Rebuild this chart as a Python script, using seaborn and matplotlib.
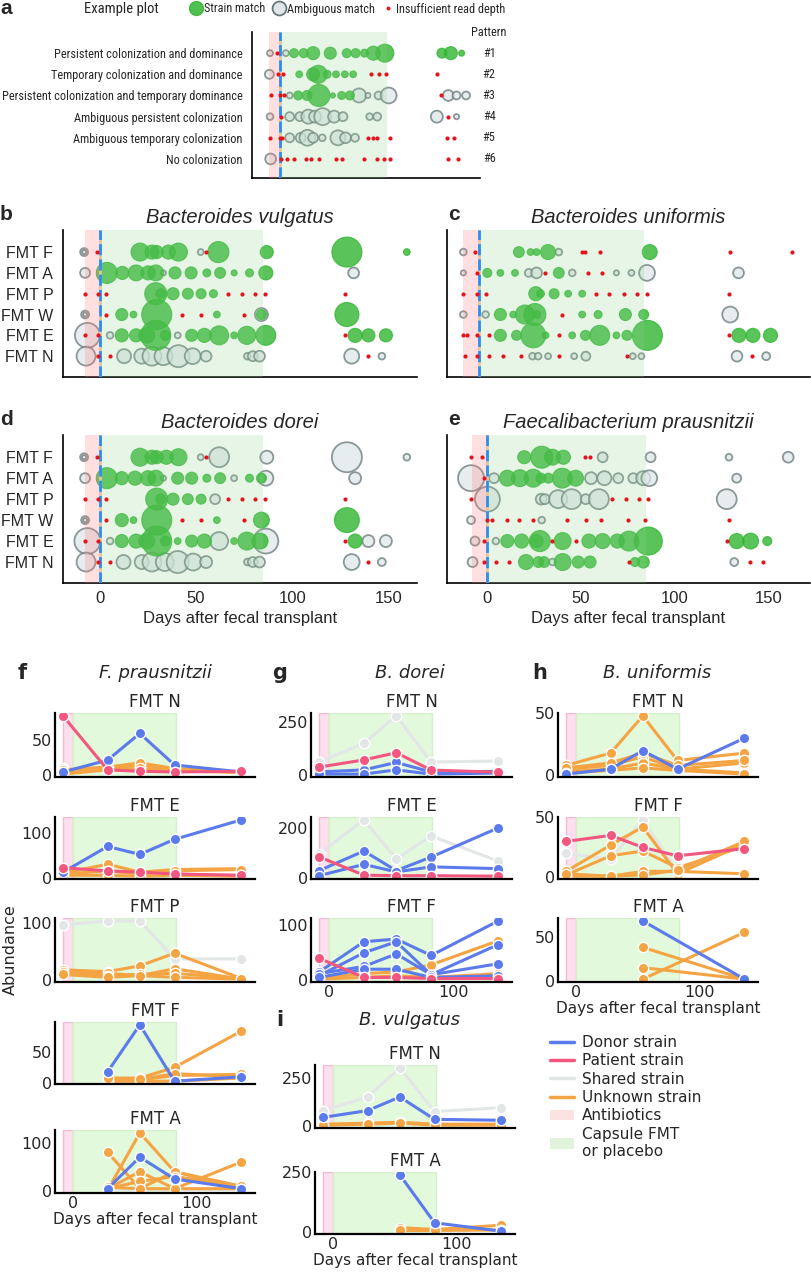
import numpy as np
import pandas as pd
import matplotlib.pyplot as plt
import seaborn as sns
from matplotlib import font_manager
from matplotlib.lines import Line2D
from matplotlib.patches import Patch

################################
# data: top panels, (day, abundance, kind)
# kind: S = strain match, A = ambiguous match, R = insufficient read depth
################################

pattern_names = ["Persistent colonization and dominance", "Temporary colonization and dominance",
                 "Persistent colonization and temporary dominance", "Ambiguous persistent colonization",
                 "Ambiguous temporary colonization", "No colonization"]
example_rows = [
    [(-7.5, 4, 'A'), (-2, 0, 'R'), (5, 4, 'A'), (11.4, 9, 'S'), (19, 9, 'S'), (26.5, 19, 'S'), (40, 16, 'S'),
     (53, 9, 'S'), (60, 9, 'S'), (67, 7, 'S'), (74, 22, 'S'), (83, 36, 'S'), (128, 11, 'S'), (135, 19, 'S'),
     (143.5, 4, 'S')],
    [(-8, 9, 'A'), (-1, 0, 'R'), (3, 0, 'R'), (15.5, 5, 'S'), (26.5, 19, 'S'), (30.5, 36, 'S'), (37.5, 7, 'S'),
     (44.5, 5, 'S'), (51.5, 5, 'S'), (58, 5, 'S'), (72, 0, 'R'), (78.5, 0, 'R'), (84, 0, 'R'), (124, 0, 'R')],
    [(-7, 0, 'R'), (0, 0, 'R'), (3.5, 0, 'R'), (8, 4, 'A'), (14.7, 9, 'S'), (21.7, 11, 'S'), (31, 54, 'S'),
     (42, 3, 'S'), (49, 7, 'S'), (55.5, 9, 'S'), (62.7, 22, 'A'), (69.7, 3, 'A'), (78, 7, 'A'), (86, 28, 'A'),
     (127, 0, 'R'), (133, 13, 'A'), (139.5, 7, 'A'), (147, 7, 'A')],
    [(-7.5, 5, 'A'), (1, 0, 'R'), (8, 9, 'A'), (16, 9, 'A'), (22.7, 22, 'A'), (28, 16, 'A'), (34, 32, 'A'),
     (43, 16, 'A'), (50, 9, 'A'), (71, 5, 'A'), (77, 7, 'A'), (124, 16, 'A'), (132.5, 0, 'R'), (139.5, 3, 'A')],
    [(-7.5, 0, 'R'), (0, 0, 'R'), (2, 0, 'R'), (8, 9, 'A'), (16.7, 11, 'A'), (22, 28, 'A'), (26.5, 11, 'A'),
     (33.7, 5, 'A'), (46, 25, 'A'), (52, 13, 'A'), (59.5, 7, 'A'), (69.4, 0, 'R'), (73.4, 0, 'R'), (77, 0, 'R'),
     (87, 0, 'R'), (132, 0, 'R'), (137.4, 0, 'R')],
    [(-7, 13, 'A'), (1, 0, 'R'), (6, 0, 'R'), (11.5, 0, 'R'), (21, 0, 'R'), (25, 0, 'R'), (31, 0, 'R'),
     (44.5, 0, 'R'), (49, 0, 'R'), (66.5, 0, 'R'), (76.5, 0, 'R'), (82, 0, 'R'), (87, 0, 'R'), (133, 0, 'R'),
     (141, 0, 'R')],
]

fmt_rows = ["FMT F", "FMT A", "FMT P", "FMT W", "FMT E", "FMT N"]

vulgatus_rows = [
    [(-8.3, 7, 'A'), (-8.3, 2, 'A'), (-1.7, 0, 'R'), (20.8, 36, 'S'), (27, 22, 'S'), (29.5, 19, 'S'),
     (35.6, 22, 'S'), (40.8, 36, 'S'), (52.4, 4, 'A'), (55, 0, 'R'), (61.6, 49, 'S'), (86.8, 19, 'S'),
     (128.5, 100, 'S'), (159.7, 5, 'S')],
    [(-7.8, 11, 'A'), (3.5, 49, 'S'), (11.6, 19, 'S'), (18.75, 28, 'S'), (25, 22, 'S'), (29, 28, 'S'),
     (33, 3, 'A'), (39, 16, 'S'), (47.4, 16, 'S'), (55.6, 7, 'S'), (62.5, 13, 'S'), (69.8, 4, 'S'),
     (77.8, 7, 'S'), (86.3, 22, 'S'), (132, 13, 'A')],
    [(-7.8, 0, 'R'), (-1.3, 0, 'R'), (3.1, 0, 'R'), (29, 54, 'S'), (31.6, 11, 'S'), (38, 16, 'S'),
     (45.7, 13, 'S'), (52.6, 11, 'S'), (59, 7, 'S'), (66.8, 0, 'R'), (73.8, 0, 'R'), (80.7, 0, 'R'),
     (86, 0, 'R'), (127.6, 0, 'R')],
    [(-7.8, 7, 'A'), (-7.8, 2, 'A'), (3.1, 0, 'R'), (11.3, 16, 'S'), (17.4, 5, 'S'), (29.5, 100, 'S'),
     (42.5, 0, 'R'), (52.6, 0, 'R'), (60.8, 5, 'S'), (75, 0, 'R'), (84, 19, 'A'), (84, 11, 'S'),
     (128.5, 64, 'S')],
    [(-6.6, 69, 'A'), (-8, 0, 'R'), (-1.3, 0, 'R'), (5.2, 5, 'A'), (11.3, 19, 'S'), (18.75, 19, 'S'),
     (24.3, 28, 'S'), (29, 100, 'S'), (34, 11, 'S'), (40.4, 4, 'A'), (47.7, 16, 'S'), (54.3, 22, 'S'),
     (62, 40, 'S'), (69.8, 5, 'S'), (76.4, 36, 'S'), (86.3, 44, 'S'), (127.4, 0, 'R'), (132.8, 22, 'S'),
     (139.7, 19, 'S'), (148.8, 19, 'S')],
    [(-7.3, 40, 'A'), (-1.3, 0, 'R'), (5.2, 0, 'R'), (12.5, 22, 'A'), (21.7, 25, 'A'), (27, 40, 'A'),
     (33, 36, 'A'), (40.8, 54, 'A'), (48.2, 28, 'A'), (55.2, 13, 'A'), (76.7, 5, 'A'), (79.5, 11, 'A'),
     (83, 13, 'A'), (131, 25, 'A'), (139.4, 0, 'R'), (146.7, 5, 'A')],
]

uniformis_rows = [
    [(-8, 5, 'A'), (-2, 0, 'R'), (20.5, 13, 'S'), (26.5, 5, 'S'), (29.6, 5, 'S'), (35.5, 25, 'S'),
     (41, 5, 'A'), (53, 0, 'R'), (54.7, 0, 'R'), (62, 0, 'R'), (87.7, 25, 'S'), (129, 0, 'R'), (160.7, 0, 'R')],
    [(-8, 3, 'A'), (-1.2, 0, 'R'), (4.3, 9, 'S'), (11, 5, 'S'), (18.5, 5, 'S'), (25.6, 7, 'A'), (29.6, 13, 'A'),
     (33.8, 0, 'R'), (41, 13, 'S'), (47.9, 5, 'A'), (56, 0, 'R'), (63, 0, 'R'), (70.6, 3, 'A'), (78.3, 4, 'A'),
     (86.3, 28, 'A'), (133.3, 13, 'A')],
    [(-8, 0, 'R'), (-1.2, 0, 'R'), (3.4, 0, 'R'), (29.2, 22, 'S'), (31.6, 7, 'S'), (38.6, 11, 'S'),
     (45.8, 5, 'S'), (53, 5, 'S'), (60, 0, 'R'), (67, 0, 'R'), (74.4, 0, 'R'), (81.4, 0, 'R'), (86.5, 0, 'R'),
     (128.2, 0, 'R')],
    [(-8, 5, 'A'), (3.4, 5, 'A'), (11, 16, 'S'), (17.6, 5, 'S'), (23.6, 40, 'S'), (28.7, 54, 'S'),
     (29.6, 7, 'S'), (42.7, 0, 'R'), (53, 5, 'S'), (61.2, 7, 'S'), (75.2, 16, 'S'), (84.6, 11, 'S'),
     (129, 28, 'A')],
    [(-8, 0, 'R'), (-6, 0, 'R'), (-1, 0, 'R'), (5.3, 0, 'R'), (11, 16, 'S'), (19.3, 11, 'S'), (27.9, 69, 'S'),
     (34.2, 5, 'S'), (41, 0, 'R'), (47.9, 5, 'S'), (54.7, 11, 'S'), (62, 44, 'S'), (70.6, 5, 'S'), (76, 11, 'S'),
     (86.5, 107, 'S'), (128.2, 0, 'R'), (133.5, 22, 'S'), (140.7, 22, 'S'), (149.7, 22, 'S')],
    [(-7.2, 0, 'R'), (-1, 0, 'R'), (5.3, 0, 'R'), (12.5, 0, 'R'), (21.5, 0, 'R'), (27.5, 5, 'A'),
     (30.4, 5, 'A'), (35.5, 4, 'A'), (41, 0, 'R'), (48.9, 4, 'A'), (54.9, 9, 'A'), (76, 0, 'R'), (79, 4, 'A'),
     (83.4, 4, 'A'), (132.5, 13, 'A'), (140.3, 0, 'R'), (147.5, 7, 'A')],
]

dorei_rows = [
    [(-8.3, 7, 'A'), (-8.3, 2, 'A'), (-1.7, 0, 'R'), (20.8, 36, 'S'), (27, 22, 'S'), (29.5, 19, 'S'),
     (34.5, 22, 'S'), (40.8, 32, 'S'), (52.4, 4, 'A'), (55, 0, 'R'), (62, 44, 'A'), (86.8, 19, 'A'),
     (128.5, 100, 'A'), (159.7, 5, 'A')],
    [(-7.8, 11, 'A'), (3.5, 49, 'S'), (11.3, 19, 'S'), (18.2, 22, 'S'), (25, 25, 'S'), (29, 28, 'S'),
     (33, 3, 'A'), (40.4, 16, 'S'), (47.7, 16, 'S'), (55.6, 7, 'S'), (62.5, 13, 'S'), (69.8, 4, 'A'),
     (77.8, 7, 'S'), (84, 11, 'S'), (86.3, 25, 'A'), (132.8, 16, 'A')],
    [(-7.8, 0, 'R'), (-1.3, 0, 'R'), (3.1, 0, 'R'), (29.5, 54, 'S'), (31.6, 11, 'S'), (38, 16, 'S'),
     (45.7, 13, 'S'), (52.6, 11, 'S'), (59.9, 11, 'A'), (66.8, 0, 'R'), (73.8, 0, 'R'), (80.7, 0, 'R'),
     (86, 0, 'R'), (127.6, 0, 'R')],
    [(-7.8, 7, 'A'), (-7.8, 2, 'A'), (3.1, 0, 'R'), (11.3, 19, 'S'), (17.4, 5, 'S'), (29.5, 100, 'S'),
     (42.5, 0, 'R'), (52.6, 0, 'R'), (60.8, 5, 'S'), (75, 0, 'R'), (84, 28, 'S'), (128.5, 69, 'S')],
    [(-6.6, 75, 'A'), (-8, 0, 'R'), (-1.3, 0, 'R'), (5.2, 5, 'A'), (11.3, 19, 'S'), (18.75, 22, 'S'),
     (24.3, 28, 'S'), (29.5, 100, 'S'), (34, 11, 'S'), (40.4, 5, 'S'), (47.7, 16, 'S'), (54.3, 22, 'S'),
     (62, 36, 'A'), (69.8, 5, 'S'), (76.4, 36, 'S'), (83.3, 28, 'S'), (86.3, 69, 'A'), (127.4, 0, 'R'),
     (132.8, 22, 'S'), (139.7, 16, 'A'), (148.8, 16, 'A')],
    [(-7.3, 40, 'A'), (-1.3, 0, 'R'), (5.2, 0, 'R'), (12.2, 22, 'A'), (21.7, 22, 'A'), (27, 40, 'A'),
     (33.7, 36, 'A'), (40.4, 54, 'A'), (48.5, 32, 'A'), (55.2, 16, 'A'), (76.7, 5, 'A'), (79.5, 11, 'A'),
     (83, 13, 'A'), (131, 28, 'A'), (139.7, 0, 'R'), (146.7, 7, 'A')],
]

prausnitzii_rows = [
    [(-8.3, 0, 'R'), (-2.3, 0, 'R'), (20, 19, 'S'), (29.3, 54, 'S'), (35, 28, 'S'), (40.8, 22, 'S'),
     (52.3, 0, 'R'), (55, 0, 'R'), (61.7, 11, 'A'), (87.2, 11, 'A'), (128.9, 5, 'A'), (160.4, 13, 'A')],
    [(-8.3, 75, 'A'), (-1.4, 0, 'R'), (3.9, 11, 'A'), (11, 28, 'S'), (17.7, 32, 'S'), (24.8, 36, 'S'),
     (28.9, 11, 'S'), (32.8, 11, 'S'), (40.2, 44, 'S'), (47.3, 28, 'S'), (55.5, 16, 'A'), (62.6, 22, 'A'),
     (70, 11, 'A'), (78, 11, 'A'), (83.3, 22, 'A'), (86.5, 28, 'A'), (133, 9, 'A')],
    [(-8.3, 0, 'R'), (0.4, 69, 'A'), (29, 13, 'A'), (31, 11, 'A'), (38, 36, 'A'), (45.2, 44, 'A'),
     (52.7, 11, 'A'), (59.7, 44, 'A'), (66.8, 0, 'R'), (74, 0, 'R'), (81, 0, 'R'), (86, 0, 'R'),
     (127.7, 44, 'A')],
    [(-8.3, 7, 'A'), (0, 0, 'R'), (2.7, 0, 'R'), (11, 0, 'R'), (17.2, 0, 'R'), (24.5, 0, 'R'), (29.3, 5, 'A'),
     (42.6, 0, 'R'), (52.7, 0, 'R'), (60.8, 0, 'R'), (75, 0, 'R'), (84.2, 0, 'R'), (128.9, 0, 'R')],
    [(-6.2, 9, 'A'), (-1.2, 0, 'R'), (4.9, 5, 'A'), (11, 19, 'S'), (18.6, 22, 'S'), (26.6, 19, 'S'),
     (28.3, 49, 'S'), (35, 0, 'R'), (40.4, 32, 'S'), (47.5, 0, 'R'), (54.4, 22, 'S'), (61.7, 25, 'S'),
     (69.5, 22, 'S'), (75.7, 44, 'S'), (86, 87, 'S'), (128, 0, 'R'), (133, 25, 'S'), (140.4, 28, 'S'),
     (149.3, 9, 'S')],
    [(-7.5, 11, 'A'), (-1.4, 0, 'R'), (4.9, 0, 'R'), (12, 0, 'R'), (20.9, 25, 'S'), (27.5, 13, 'S'),
     (30.5, 13, 'S'), (35, 5, 'A'), (40.4, 32, 'S'), (48.7, 16, 'S'), (55, 16, 'S'), (75.9, 0, 'R'),
     (78.9, 9, 'S'), (83.3, 16, 'S'), (131.7, 7, 'A'), (140, 0, 'R'), (147, 0, 'R')],
]

################################
# data: bottom panels (abundance at each sampling day)
################################

days_small = [-8, 28, 54, 82, 136]
N = None

fp_N = [("Shared", [10, 12, 14, 10, 5]), ("Unknown", [3, 10, 15, 8, 5]), ("Unknown", [8, 12, 18, 10, 5]),
        ("Unknown", [2, 8, 10, 7, 4]), ("Donor", [5, 22, 60, 15, 5]), ("Patient", [85, 8, 6, 5, 6])]
fp_E = [("Shared", [8, 10, 5, 8, 4]), ("Unknown", [10, 30, 12, 18, 20]), ("Unknown", [8, 15, 8, 15, 18]),
        ("Unknown", [5, 5, 3, 5, 3]), ("Patient", [22, 15, 12, 8, 5]), ("Donor", [12, 70, 52, 86, 130])]
fp_P = [("Shared", [96, 103, 103, 37, 37]), ("Unknown", [18, 15, 25, 47, 3]), ("Unknown", [12, 12, 8, 20, 2]),
        ("Unknown", [15, 8, 10, 12, 3]), ("Unknown", [10, 5, 8, 5, 2])]
fp_F = [("Unknown", [N, 8, 8, 25, 83]), ("Unknown", [N, 5, 5, 12, 14]), ("Unknown", [N, 3, 3, 3, 8]),
        ("Unknown", [N, 8, 6, 15, 10]), ("Donor", [N, 18, 93, 3, 10])]
fp_A = [("Shared", [N, 5, 5, 5, 5]), ("Unknown", [N, 80, 5, 40, 10]), ("Unknown", [N, 2, 120, 40, 5]),
        ("Unknown", [N, 5, 40, 5, 60]), ("Unknown", [N, 5, 20, 30, 10]), ("Unknown", [N, 8, 5, 5, 5]),
        ("Donor", [N, 5, 70, 25, 5])]

bd_N = [("Shared", [62, 150, 280, 62, 67]), ("Donor", [15, 25, 60, 15, 18]), ("Donor", [5, 5, 25, 5, 10]),
        ("Patient", [38, 72, 106, 24, 14])]
bd_E = [("Shared", [96, 232, 76, 168, 68]), ("Donor", [30, 108, 30, 84, 200]), ("Donor", [10, 55, 25, 45, 38]),
        ("Patient", [85, 12, 10, 10, 8])]
bd_F = [("Unknown", [3, 12, 15, 28, 72]), ("Unknown", [2, 5, 8, 5, 12]), ("Donor", [15, 70, 75, 45, 108]),
        ("Donor", [8, 50, 70, 10, 65]), ("Donor", [12, 25, 48, 10, 30]), ("Donor", [5, 20, 20, 5, 8]),
        ("Patient", [40, 5, 5, 3, 3])]

bu_N = [("Donor", [1, 5, 20, 5, 30]), ("Unknown", [8, 18, 48, 12, 18]), ("Unknown", [5, 8, 15, 5, 10]),
        ("Unknown", [3, 5, 10, 5, 2]), ("Unknown", [6, 10, 18, 8, 12]), ("Unknown", [2, 4, 6, 4, 1])]
bu_F = [("Shared", [20, 15, 48, 5, 30]), ("Unknown", [5, 27, 42, 3, 28]), ("Unknown", [2, 18, 22, 8, 26]),
        ("Unknown", [1, 1, 5, 5, 3]), ("Unknown", [3, 1, 2, 6, 30]), ("Patient", [30, 35, 25, 18, 24])]
bu_A = [("Donor", [N, N, 68, N, 2]), ("Unknown", [N, N, 38, N, 2]), ("Unknown", [N, N, 15, N, 2]),
        ("Unknown", [N, N, 2, N, 55])]

bv_N = [("Shared", [80, 150, 300, 75, 95]), ("Donor", [45, 80, 150, 35, 30]), ("Unknown", [10, 15, 20, 10, 10]),
        ("Unknown", [5, 10, 15, 5, 5])]
bv_A = [("Donor", [N, N, 240, 40, 5]), ("Unknown", [N, N, 20, 12, 30]), ("Unknown", [N, N, 8, 8, 10])]

################################
# style
################################

sns.set_style("white")
plt.rcParams["font.family"] = ["DejaVu Sans"]

SANS = ["Liberation Sans", "DejaVu Sans"]

# a condensed sans for panel a, if one is installed
narrow_path = None
for pref in ["Liberation Sans", "Arial", "Roboto", "Noto Sans", "Open Sans", "Lato", "Inter", "DejaVu Sans"]:
    for f in font_manager.fontManager.ttflist:
        cond = f.stretch in ("condensed", "semi-condensed") or "Narrow" in f.name or "Condensed" in f.name
        if cond and f.name.startswith(pref) and f.style == "normal" and f.weight in (400, "normal", "regular"):
            narrow_path = f.fname
            break
    if narrow_path:
        break


def narrow(size):
    if narrow_path:
        return font_manager.FontProperties(fname=narrow_path, size=size)
    return font_manager.FontProperties(family=SANS, size=size)


GREEN = "#31b531"
AMB_FACE = "#dfe6e9"
AMB_EDGE = "#687878"
RED = "#e3141b"
S_MAX = (0.72 * 30) ** 2
pal = {"Donor": "#5b7bec", "Patient": "#f2577f", "Shared": "#e2e6e7", "Unknown": "#f5a443"}
hue_order = ["Shared", "Unknown", "Donor", "Patient"]

W, H = 812, 1275
fig = plt.figure(figsize=(W / 100, H / 100), dpi=100)


def add_ax(left, top, right, bottom):
    return fig.add_axes([left / W, 1 - bottom / H, (right - left) / W, (bottom - top) / H])


def fig_text(x, y, s, **kw):
    return fig.text(x / W, 1 - y / H, s, **kw)


def bubbles(ax, rows, xlim, ylim):
    recs = [(i, d, a, k) for i, pts in enumerate(rows) for d, a, k in pts]
    df = pd.DataFrame(recs, columns=["row", "day", "abund", "kind"])
    amb = df[df["kind"] == "A"]
    if len(amb):
        sns.scatterplot(data=amb, x="day", y="row", size="abund", sizes=(0, S_MAX), size_norm=(0, 100),
                        color=AMB_FACE, edgecolor=AMB_EDGE, linewidth=1.3, alpha=0.75, legend=False,
                        ax=ax, zorder=2)
    hit = df[df["kind"] == "S"]
    if len(hit):
        sns.scatterplot(data=hit, x="day", y="row", size="abund", sizes=(0, S_MAX), size_norm=(0, 100),
                        color=GREEN, edgecolor=GREEN, linewidth=0.8, alpha=0.8, legend=False, ax=ax, zorder=2)
    low = df[df["kind"] == "R"]
    sns.scatterplot(data=low, x="day", y="row", color=RED, s=9, linewidth=0, legend=False, ax=ax, zorder=5)

    ax.axvspan(-8, 0, color="#ff8080", alpha=0.25, lw=0, zorder=3)
    ax.axvspan(0, 85, color="#90d490", alpha=0.22, lw=0, zorder=3)
    ax.axvline(0, color="#e6c49c", lw=2, zorder=4)
    ax.axvline(0, color="#2b8ff0", lw=2, ls=(0, (4, 1.5)), zorder=4)

    ax.set_xlim(xlim)
    ax.set_ylim(ylim)
    ax.set_xlabel("")
    ax.set_ylabel("")
    ax.set_xticks([])
    ax.set_yticks([])
    for s in ["top", "right"]:
        ax.spines[s].set_visible(False)
    for s in ["left", "bottom"]:
        ax.spines[s].set_color("black")
        ax.spines[s].set_linewidth(1.2)
    ax.tick_params(length=0)


def lines(ax, series, yticks, show_x=False, xlabel=False, title=""):
    recs = []
    for j, (strain, vals) in enumerate(series):
        for d, v in zip(days_small, vals):
            if v is not None:
                recs.append((j, strain, d, v))
    df = pd.DataFrame(recs, columns=["line", "strain", "day", "abund"])
    ax.axvspan(-8, 0, facecolor="#fde0ee", edgecolor="#f6b9d2", lw=1, zorder=0)
    ax.axvspan(0, 83, facecolor="#e3f9dc", edgecolor="#d3f0ca", lw=1, zorder=0)
    sns.lineplot(data=df, x="day", y="abund", hue="strain", units="line", estimator=None,
                 hue_order=hue_order, palette=pal, marker="o", markersize=7.5, markeredgecolor="white",
                 markeredgewidth=1, linewidth=2.2, legend=False, ax=ax)
    ax.set_xlim(-14.5, 147)
    ax.set_yticks(yticks)
    ax.set_xticks([0, 100] if show_x else [])
    ax.set_xlabel("Days after fecal transplant" if xlabel else "", fontsize=11, labelpad=1)
    ax.set_ylabel("")
    ax.set_title(title, fontsize=12, pad=4)
    ax.tick_params(length=0, labelsize=11.5, pad=2)
    for s in ["top", "right"]:
        ax.spines[s].set_visible(False)
    for s in ["left", "bottom"]:
        ax.spines[s].set_color("black")
        ax.spines[s].set_linewidth(1.6)


################################
# panel a
################################

ax_a = add_ax(252, 32, 480, 178)
bubbles(ax_a, example_rows, (-21.7, 158), (5.9, -1))
ax_a.set_yticks(range(6))
ylabs = ax_a.set_yticklabels(pattern_names, fontproperties=narrow(10.5))
ax_a.tick_params(axis="y", pad=7)

# fit the longest row label into the space left of the axis, as in the figure
fig.canvas.draw()
k = min(1.3, 243 / ylabs[2].get_window_extent().width)
for lab in ylabs:
    lab.set_fontproperties(narrow(10.5 * k))

for i in range(6):
    ax_a.text(1.04, i, f"#{i + 1}", transform=ax_a.get_yaxis_transform(), ha="center", va="center",
              fontproperties=narrow(10.5 * k))
ax_a.text(1.04, -1, "Pattern", transform=ax_a.get_yaxis_transform(), ha="center", va="center",
          fontproperties=narrow(10.5 * k))

fig_text(0, 9, "a", fontsize=15, weight="bold", family=SANS, va="center")
fig_text(121, 9, "Example plot", fontproperties=narrow(12.5 * k), va="center", ha="center")
leg_handles = [
    Line2D([], [], ls="", marker="o", markersize=10, markerfacecolor=GREEN, markeredgecolor=GREEN, alpha=0.85),
    Line2D([], [], ls="", marker="o", markersize=10, markerfacecolor=AMB_FACE, markeredgecolor=AMB_EDGE,
           markeredgewidth=1.3),
    Line2D([], [], ls="", marker="o", markersize=2.8, markerfacecolor=RED, markeredgewidth=0),
]
fig.legend(leg_handles, ["Strain match", "Ambiguous match", "Insufficient read depth"], ncol=3,
           loc="center left", bbox_to_anchor=(190 / W, 1 - 9 / H), frameon=False, handlelength=1.0,
           handletextpad=0.15, columnspacing=0.6, borderpad=0, borderaxespad=0, prop=narrow(10.5 * k))

################################
# panels b-e
################################

top_specs = [
    ("b", "Bacteroides vulgatus", vulgatus_rows, (63, 230, 417, 377), (-19.3, 165), True, False),
    ("c", "Bacteroides uniformis", uniformis_rows, (447, 230, 810, 377), (-16.4, 170), False, False),
    ("d", "Bacteroides dorei", dorei_rows, (63, 435, 417, 583), (-19.3, 165), True, True),
    ("e", "Faecalibacterium prausnitzii", prausnitzii_rows, (447, 435, 810, 583), (-21.1, 172), False, True),
]
for letter, name, rows, box, xlim, ylabels, xaxis in top_specs:
    ax = add_ax(*box)
    bubbles(ax, rows, xlim, (6.0, -1.06))
    ax.set_title(name, style="italic", fontsize=14.5, family=SANS, pad=5)
    fig_text(box[0] - 63 if letter in "bd" else box[0] + 1, box[1] - 15, letter, fontsize=15,
             weight="bold", family=SANS, va="center")
    if ylabels:
        ax.set_yticks(range(6))
        ax.set_yticklabels(fmt_rows)
        ax.tick_params(axis="y", pad=7, labelsize=11.5, labelfontfamily=SANS)
    if xaxis:
        ax.set_xticks([0, 50, 100, 150])
        ax.tick_params(axis="x", pad=6, labelsize=12, labelfontfamily=SANS)
        ax.set_xlabel("Days after fecal transplant", fontsize=12, family=SANS, labelpad=3)

################################
# panels f-i
################################

f_specs = [(fp_N, [0, 50], "FMT N", (713, 777)), (fp_E, [0, 100], "FMT E", (817, 879)),
           (fp_P, [0, 100], "FMT P", (918, 982)), (fp_F, [0, 50], "FMT F", (1022, 1084)),
           (fp_A, [0, 100], "FMT A", (1130, 1193))]
for j, (series, yt, title, (t, b)) in enumerate(f_specs):
    last = j == len(f_specs) - 1
    lines(add_ax(55, t, 255, b), series, yt, show_x=last, xlabel=last, title=title)

g_specs = [(bd_N, [0, 250], "FMT N", (713, 777)), (bd_E, [0, 200], "FMT E", (817, 879)),
           (bd_F, [0, 100], "FMT F", (918, 982))]
for j, (series, yt, title, (t, b)) in enumerate(g_specs):
    lines(add_ax(311, t, 512, b), series, yt, show_x=(j == 2), title=title)

h_specs = [(bu_N, [0, 50], "FMT N", (713, 777)), (bu_F, [0, 50], "FMT F", (817, 879)),
           (bu_A, [0, 50], "FMT A", (918, 982))]
for j, (series, yt, title, (t, b)) in enumerate(h_specs):
    lines(add_ax(558, t, 758, b), series, yt, show_x=(j == 2), xlabel=(j == 2), title=title)

i_specs = [(bv_N, [0, 250], "FMT N", (1065, 1128)), (bv_A, [0, 250], "FMT A", (1172, 1234))]
for j, (series, yt, title, (t, b)) in enumerate(i_specs):
    lines(add_ax(315, t, 515, b), series, yt, show_x=(j == 1), xlabel=(j == 1), title=title)

for letter, x_l, x_t, y, name in [("f", 22, 155, 673, "F. prausnitzii"), ("g", 280, 410, 673, "B. dorei"),
                                  ("h", 540, 657, 673, "B. uniformis"), ("i", 280, 410, 1020, "B. vulgatus")]:
    fig_text(x_l, y, letter, fontsize=15, weight="bold", va="center", ha="center")
    fig_text(x_t, y, name, fontsize=13, style="italic", va="center", ha="center")

fig_text(10, 950, "Abundance", fontsize=11.5, rotation=90, va="center", ha="center")

legend_handles = [Line2D([], [], color=pal[c], lw=2.5) for c in ["Donor", "Patient", "Shared", "Unknown"]]
legend_handles += [Patch(facecolor="#fde2e2", edgecolor="none"), Patch(facecolor="#e2f3dc", edgecolor="none")]
fig.legend(legend_handles, ["Donor strain", "Patient strain", "Shared strain", "Unknown strain", "Antibiotics",
                            "Capsule FMT\nor placebo"],
           loc="upper left", bbox_to_anchor=(550 / W, 1 - 1035 / H), frameon=False, fontsize=11,
           handlelength=1.6, handletextpad=0.5, labelspacing=0.22, borderpad=0, borderaxespad=0)

fig.savefig("out.png", dpi=100)
